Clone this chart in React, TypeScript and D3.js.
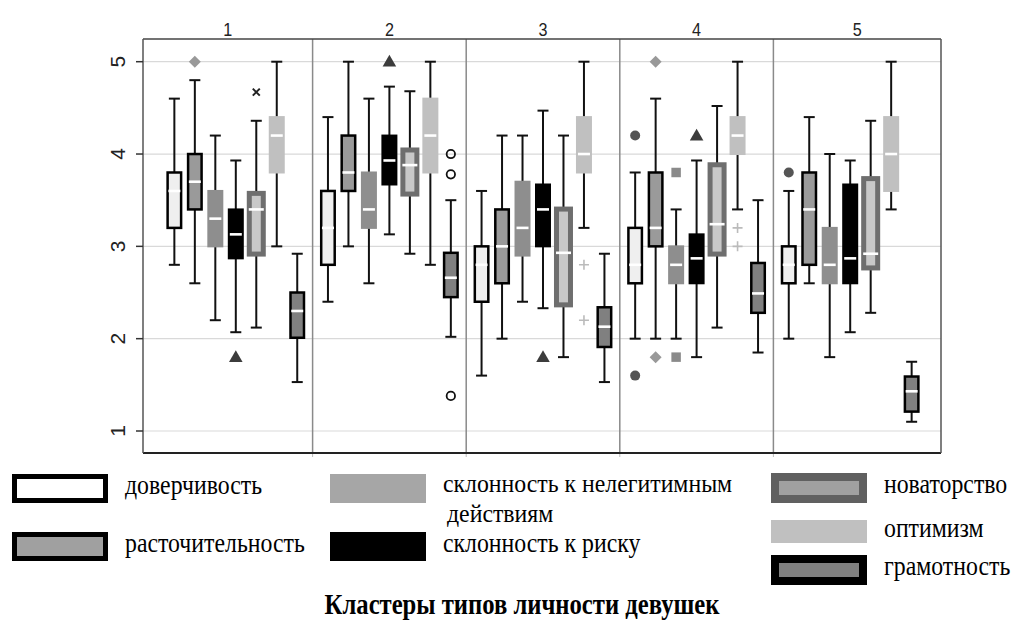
import * as d3 from "d3";

// clusters and traits
const CLUSTERS = ["1", "2", "3", "4", "5"];
const TRAITS = [
  "доверчивость",
  "расточительность",
  "склонность к нелегитимным действиям",
  "склонность к риску",
  "новаторство",
  "оптимизм",
  "грамотность",
];

// [lower whisker, q1, median, q3, upper whisker] per cluster
const TRUST = [
  [2.8, 3.2, 3.6, 3.8, 4.6],
  [2.4, 2.8, 3.2, 3.6, 4.4],
  [1.6, 2.4, 2.8, 3.0, 3.6],
  [2.0, 2.6, 2.8, 3.2, 3.8],
  [2.0, 2.6, 2.8, 3.0, 3.6],
];
const WASTE = [
  [2.6, 3.4, 3.7, 4.0, 4.8],
  [3.0, 3.6, 3.8, 4.2, 5.0],
  [2.0, 2.6, 3.0, 3.4, 4.2],
  [2.0, 3.0, 3.2, 3.8, 4.6],
  [2.6, 2.8, 3.4, 3.8, 4.4],
];
const ILLEGIT = [
  [2.2, 3.0, 3.3, 3.6, 4.2],
  [2.6, 3.2, 3.4, 3.8, 4.6],
  [2.4, 2.9, 3.2, 3.7, 4.2],
  [2.0, 2.6, 2.8, 3.0, 3.4],
  [1.8, 2.6, 2.8, 3.2, 4.0],
];
const RISK = [
  [2.07, 2.87, 3.13, 3.4, 3.93],
  [3.13, 3.67, 3.93, 4.2, 4.73],
  [2.33, 3.0, 3.4, 3.67, 4.47],
  [1.8, 2.6, 2.87, 3.13, 3.93],
  [2.07, 2.6, 2.87, 3.67, 3.93],
];
const INNOV = [
  [2.12, 2.9, 3.4, 3.59, 4.36],
  [2.92, 3.55, 3.88, 4.06, 4.68],
  [1.8, 2.35, 2.93, 3.42, 4.2],
  [2.12, 2.9, 3.24, 3.9, 4.52],
  [2.28, 2.75, 2.92, 3.75, 4.36],
];
const OPTIM = [
  [3.0, 3.8, 4.2, 4.4, 5.0],
  [2.8, 3.8, 4.2, 4.6, 5.0],
  [3.2, 3.8, 4.0, 4.4, 5.0],
  [3.4, 4.0, 4.2, 4.4, 5.0],
  [3.4, 3.6, 4.0, 4.4, 5.0],
];
const LITERACY = [
  [1.53, 2.01, 2.3, 2.5, 2.92],
  [2.02, 2.45, 2.66, 2.93, 3.5],
  [1.53, 1.91, 2.13, 2.34, 2.92],
  [1.85, 2.28, 2.49, 2.82, 3.5],
  [1.1, 1.21, 1.43, 1.59, 1.75],
];
const STATS = [TRUST, WASTE, ILLEGIT, RISK, INNOV, OPTIM, LITERACY];

// outliers per trait per cluster
const TRUST_OUT = [[], [], [], [4.2, 1.6], [3.8]];
const WASTE_OUT = [[5.0], [], [], [5.0, 1.8], []];
const ILLEGIT_OUT = [[], [], [], [3.8, 1.8], []];
const RISK_OUT = [[1.8], [5.0], [1.8], [4.2], []];
const INNOV_OUT = [[4.67], [], [], [], []];
const OPTIM_OUT = [[], [], [2.8, 2.2], [3.2, 3.0], []];
const LITERACY_OUT = [[], [4.0, 3.78, 1.38], [], [], []];
const OUTLIERS = [TRUST_OUT, WASTE_OUT, ILLEGIT_OUT, RISK_OUT, INNOV_OUT, OPTIM_OUT, LITERACY_OUT];

const Y_TICKS = [1, 2, 3, 4, 5];
const TITLE = "Кластеры типов личности девушек";

const W = 1024;
const H = 622;
const PLOT = { left: 143, right: 941, top: 39, bottom: 453 };
const SANS = "Liberation Sans, Arial, sans-serif";
const SERIF = "Liberation Serif, Times New Roman, serif";
const SQX = 0.85;

type Look = { kind: "border" | "flat" | "inner"; fill: string; edge?: string; inner?: string };
const LOOKS: Look[] = [
  { kind: "border", fill: "#efefef", edge: "#000" },
  { kind: "border", fill: "#9a9a9a", edge: "#000" },
  { kind: "flat", fill: "#8e8e8e" },
  { kind: "flat", fill: "#000" },
  { kind: "inner", fill: "#6e6e6e", inner: "#c8c8c8" },
  { kind: "flat", fill: "#c0c0c0" },
  { kind: "border", fill: "#808080", edge: "#000" },
];

const Marker = ({ t, x, y }: { t: number; x: number; y: number }) => {
  if (t === 0) return <circle cx={x} cy={y} r={5} fill="#555" />;
  if (t === 1)
    return (
      <path d={d3.symbol(d3.symbolSquare, 72)()!} transform={`translate(${x},${y}) rotate(45)`} fill="#999" />
    );
  if (t === 2) return <path d={d3.symbol(d3.symbolSquare, 90)()!} transform={`translate(${x},${y})`} fill="#8a8a8a" />;
  if (t === 3)
    return <path d={d3.symbol(d3.symbolTriangle, 80)()!} transform={`translate(${x},${y + 1})`} fill="#3c3c3c" />;
  if (t === 4)
    return (
      <path d="M-3.5,-3.5L3.5,3.5M-3.5,3.5L3.5,-3.5" transform={`translate(${x},${y})`} stroke="#222" strokeWidth={2} />
    );
  if (t === 5)
    return <path d="M-5,0H5M0,-5V5" transform={`translate(${x},${y})`} stroke="#bbb" strokeWidth={1.6} />;
  return <circle cx={x} cy={y} r={4.2} fill="none" stroke="#111" strokeWidth={1.8} />;
};

const Box = ({ t, cx, s, y }: { t: number; cx: number; s: number[]; y: d3.ScaleLinear<number, number> }) => {
  const [lo, q1, md, q3, hi] = s.map((v) => y(v));
  const look = LOOKS[t];
  const bw = look.kind === "inner" ? 19 : 16;
  let body;
  if (look.kind === "border") {
    body = (
      <rect x={cx - bw / 2 + 1.25} y={q3} width={bw - 2.5} height={q1 - q3} fill={look.fill} stroke={look.edge} strokeWidth={2.5} />
    );
  } else if (look.kind === "flat") {
    body = <rect x={cx - bw / 2} y={q3 - 1} width={bw} height={q1 - q3 + 2} fill={look.fill} />;
  } else {
    body = (
      <g>
        <rect x={cx - bw / 2} y={q3 - 1} width={bw} height={q1 - q3 + 2} fill={look.fill} />
        <rect x={cx - bw / 2 + 5} y={q3 + 4} width={bw - 10} height={Math.max(0, q1 - q3 - 8)} fill={look.inner} />
      </g>
    );
  }
  return (
    <g>
      <line x1={cx} x2={cx} y1={hi} y2={lo} stroke="#111" strokeWidth={2} />
      <line x1={cx - 5.5} x2={cx + 5.5} y1={hi} y2={hi} stroke="#111" strokeWidth={2} />
      <line x1={cx - 5.5} x2={cx + 5.5} y1={lo} y2={lo} stroke="#111" strokeWidth={2} />
      {body}
      <line x1={cx - bw / 2 + 2} x2={cx + bw / 2 - 2} y1={md} y2={md} stroke="#fff" strokeWidth={2.6} />
    </g>
  );
};

type LegendItem = { t: number; x: number; y: number; h: number; lines: string[] };
const LEGEND: LegendItem[] = [
  { t: 0, x: 12, y: 474, h: 29, lines: [TRAITS[0]] },
  { t: 1, x: 12, y: 532, h: 29, lines: [TRAITS[1]] },
  { t: 2, x: 330, y: 474, h: 29, lines: ["склонность к нелегитимным", "действиям"] },
  { t: 3, x: 330, y: 532, h: 29, lines: [TRAITS[3]] },
  { t: 4, x: 771, y: 473, h: 30, lines: [TRAITS[4]] },
  { t: 5, x: 771, y: 520, h: 23, lines: [TRAITS[5]] },
  { t: 6, x: 771, y: 555, h: 30, lines: [TRAITS[6]] },
];
const LEGEND_FILL = ["#fff", "#a0a0a0", "#a6a6a6", "#000", "#a0a0a0", "#c0c0c0", "#808080"];
const LEGEND_EDGE = ["#000", "#000", null, null, "#606060", null, "#000"];

const Swatch = ({ it }: { it: LegendItem }) => {
  const w = 96;
  const edge = LEGEND_EDGE[it.t];
  const fill = LEGEND_FILL[it.t];
  const inset = it.t === 4 || it.t === 6 ? 8 : 5;
  const multi = it.lines.length > 1;
  const fs = multi ? 26 : 28;
  const sx = multi ? SQX * 28 / 26 : SQX;
  const base = it.y + 20 + (it.h < 25 ? -3 : 0) + (multi ? -2 : 0);
  return (
    <g>
      {edge ? (
        <>
          <rect x={it.x} y={it.y} width={w} height={it.h} fill={edge} />
          <rect x={it.x + inset} y={it.y + inset} width={w - 2 * inset} height={it.h - 2 * inset} fill={fill} />
        </>
      ) : (
        <rect x={it.x} y={it.y} width={w} height={it.h} fill={fill} />
      )}
      {it.lines.map((ln, i) => (
        <text
          key={i}
          transform={`translate(${it.x + 113 + (i > 0 ? 4 : 0)},${base + i * 30}) scale(${sx},1)`}
          fontFamily={SERIF}
          fontSize={fs}
          fill="#000"
        >
          {ln}
        </text>
      ))}
    </g>
  );
};

export default function App() {
  const y = d3.scaleLinear().domain([1, 5]).range([431, 61.7]);
  const xPanel = d3.scaleBand().domain(CLUSTERS).range([PLOT.left + 16, PLOT.right - 14]).padding(0);
  const inner = (c: string) =>
    d3
      .scalePoint<number>()
      .domain(d3.range(TRAITS.length))
      .range([xPanel(c)!, xPanel(c)! + xPanel.bandwidth()])
      .padding(0.75);

  return (
    <svg width={W} height={H} style={{ position: "absolute", left: 0, top: 0, background: "#fff" }}>
      {/* grid */}
      {Y_TICKS.map((v) => (
        <line key={v} x1={PLOT.left} x2={PLOT.right} y1={y(v)} y2={y(v)} stroke="#d9d9d9" strokeWidth={1.2} />
      ))}
      {/* panel separators */}
      {CLUSTERS.slice(1).map((c) => (
        <g key={c}>
          <line x1={xPanel(c)} x2={xPanel(c)} y1={PLOT.top} y2={PLOT.bottom} stroke="#8a8a8a" strokeWidth={1.5} />
          <line x1={xPanel(c)} x2={xPanel(c)} y1={PLOT.bottom} y2={PLOT.bottom + 4} stroke="#bbb" strokeWidth={1} />
        </g>
      ))}
      {/* frame */}
      <line x1={PLOT.left} x2={PLOT.right} y1={PLOT.top} y2={PLOT.top} stroke="#444" strokeWidth={1.5} />
      <line x1={PLOT.left} x2={PLOT.right} y1={PLOT.bottom} y2={PLOT.bottom} stroke="#222" strokeWidth={2} />
      <line x1={PLOT.left} x2={PLOT.left} y1={PLOT.top} y2={PLOT.bottom} stroke="#555" strokeWidth={1.5} />
      <line x1={PLOT.right} x2={PLOT.right} y1={PLOT.top} y2={PLOT.bottom} stroke="#555" strokeWidth={1.5} />
      {/* y axis */}
      {Y_TICKS.map((v) => (
        <g key={v}>
          <line x1={PLOT.left - 7} x2={PLOT.left} y1={y(v)} y2={y(v)} stroke="#333" strokeWidth={1.5} />
          <text
            transform={`translate(${PLOT.left - 18},${y(v)}) rotate(-90)`}
            textAnchor="middle"
            fontFamily={SANS}
            fontSize={21}
            fill="#222"
          >
            {v}
          </text>
        </g>
      ))}
      {/* panel headers */}
      {CLUSTERS.map((c, i) => {
        const cx = i === 0 ? (PLOT.left + xPanel(c)! + xPanel.bandwidth()) / 2 : i === CLUSTERS.length - 1 ? (xPanel(c)! + PLOT.right) / 2 : xPanel(c)! + xPanel.bandwidth() / 2;
        return (
          <text key={c} transform={`translate(${cx},${PLOT.top - 3}) scale(${SQX},1)`} textAnchor="middle" fontFamily={SANS} fontSize={19} fill="#222">
            {c}
          </text>
        );
      })}
      {/* boxes */}
      {CLUSTERS.map((c, ci) => {
        const xp = inner(c);
        return (
          <g key={c}>
            {STATS.map((st, t) => (
              <Box key={t} t={t} cx={xp(t)!} s={st[ci]} y={y} />
            ))}
            {OUTLIERS.map((ot, t) => ot[ci].map((v, k) => <Marker key={`${t}-${k}`} t={t} x={xp(t)!} y={y(v)} />))}
          </g>
        );
      })}
      {/* legend */}
      {LEGEND.map((it) => (
        <Swatch key={it.t} it={it} />
      ))}
      <text
        transform={`translate(522,614) scale(${SQX},1)`}
        textAnchor="middle"
        fontFamily={SERIF}
        fontWeight="bold"
        fontSize={29}
        fill="#000"
      >
        {TITLE}
      </text>
    </svg>
  );
}
